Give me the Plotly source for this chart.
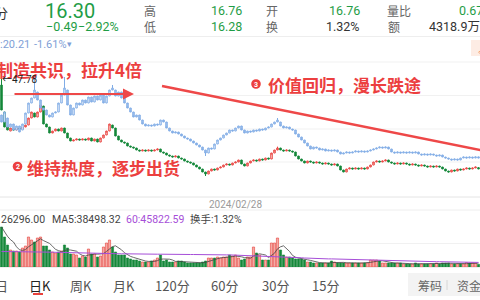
import plotly.graph_objects as go
import pandas as pd

# ---------------- data ----------------
main_open = [45.68,36.23,30.98,29.58,30.28,29.93,30.63,30.28,30.98,31.68,
             34.13,35.88,34.48,36.23,38.33,32.03,30.98,28.88,29.58,30.28,
             29.58,30.63,28.88,27.13,26.08,26.43,26.78,26.43,26.78,26.43,
             27.13,26.08,26.78,25.73,27.13,28.18,29.58,31.68,30.63,27.83,
             26.43,25.73,25.38,24.33,23.98,23.63,22.93,22.58,22.93,22.58,
             22.93,22.58,22.93,23.28,22.23,21.88,21.18,20.83,20.48,20.83,
             20.13,19.78,19.08,18.73,18.38,17.68,16.98,16.28,15.23,14.53,
             15.58,16.28,15.93,16.63,16.98,17.68,18.03,17.68,18.38,18.73,
             19.43,18.03,17.33,18.38,19.08,19.43,19.08,19.78,19.43,20.13,
             19.78,21.88,22.93,23.63,22.93,22.58,22.93,22.58,22.23,20.83,
             19.78,19.08,18.38,19.08,18.73,18.38,18.73,18.38,18.03,18.38,
             18.03,17.68,18.03,17.33,15.93,15.23,16.28,16.63,16.28,16.63,
             16.28,16.63,16.28,16.98,17.68,18.73,19.08,18.73,19.08,19.43,
             18.73,18.38,18.03,18.38,18.03,18.38,18.03,17.68,18.03,17.68,
             17.33,17.68,17.33,16.98,17.33,16.98,17.33,16.98,16.28,15.58,
             15.23,15.93,15.58,16.28,15.93,16.28,16.63,16.28,16.63,16.76]
main_close = [36.93,30.98,29.93,30.63,29.93,30.63,30.28,30.98,31.68,34.13,
              36.23,34.48,36.23,38.68,32.03,30.98,28.88,29.58,30.28,29.58,
              30.63,28.88,27.13,26.08,26.43,26.78,26.43,26.78,26.43,27.13,
              26.08,26.78,25.73,27.13,28.18,29.58,32.03,30.63,27.83,26.43,
              25.73,25.38,24.33,23.98,23.63,22.93,22.58,22.93,22.58,22.93,
              22.58,22.93,23.28,22.23,21.88,21.18,20.83,20.48,20.83,20.13,
              19.78,19.08,18.73,18.38,17.68,16.98,16.28,15.23,14.53,15.58,
              16.28,15.93,16.63,16.98,17.68,18.03,17.68,18.38,18.73,19.43,
              18.03,17.33,18.38,19.08,19.43,19.08,19.78,19.43,20.13,19.78,
              21.88,22.93,23.63,22.93,22.58,22.93,22.58,22.23,20.83,19.78,
              19.08,18.38,19.08,18.73,18.38,18.73,18.38,18.03,18.38,18.03,
              17.68,18.03,17.33,15.93,15.23,16.28,16.63,16.28,16.63,16.28,
              16.63,16.28,16.98,17.68,18.73,19.08,18.73,19.08,19.43,18.73,
              18.38,18.03,18.38,18.03,18.38,18.03,17.68,18.03,17.68,17.33,
              17.68,17.33,16.98,17.33,16.98,17.33,16.98,16.28,15.58,15.23,
              15.93,15.58,16.28,15.93,16.28,16.63,16.28,16.63,16.98,16.30]
main_wick_high = {0: 47.78, 13: 39.40, 92: 24.10, 159: 16.76}
main_wick_low = {68: 13.83, 159: 16.28}

cmp_open = [33.1,31.0,32.2,29.5,30.4,28.6,29.8,28.6,30.4,33.7,
            36.7,38.2,40.0,37.6,35.2,34.6,33.1,32.5,33.7,34.0,
            36.7,39.1,40.6,36.1,33.1,35.2,36.7,36.1,37.6,36.7,
            38.5,37.0,38.8,37.6,39.1,36.7,38.8,40.6,40.6,38.8,
            40.0,38.2,36.7,35.2,34.0,32.5,33.1,31.6,30.4,29.8,
            30.1,29.8,30.4,30.1,31.6,31.0,29.2,28.3,27.7,28.0,
            27.4,26.8,26.2,25.9,25.3,24.7,24.1,23.5,22.6,21.7,
            23.2,22.9,24.4,25.6,26.2,27.1,27.7,28.6,28.3,29.2,
            29.8,28.6,27.7,28.3,28.0,28.6,28.3,28.9,28.6,29.2,
            29.5,30.4,31.0,31.0,29.8,29.2,29.5,28.9,28.6,27.4,
            26.5,25.6,24.7,23.8,22.9,23.5,23.2,22.6,22.9,22.3,
            22.6,22.3,22.6,22.0,21.4,21.7,22.0,21.7,22.0,22.3,
            22.0,22.3,22.0,22.3,22.6,22.9,23.2,23.5,23.2,23.5,
            22.9,22.0,21.7,22.0,21.7,22.0,21.7,22.0,21.7,22.0,
            21.4,21.1,21.4,21.1,21.4,21.1,20.8,21.1,20.5,20.2,
            19.9,19.6,19.9,19.6,20.2,20.5,20.2,20.5,20.2,20.54]
cmp_close = [31.0,34.0,29.5,30.4,28.6,29.8,28.0,30.4,33.7,36.7,
             38.2,40.6,37.6,35.2,34.6,33.1,32.5,33.7,34.0,36.7,
             39.1,41.2,36.1,33.1,35.2,36.7,36.1,37.6,36.7,38.5,
             37.0,38.8,37.6,39.1,36.7,38.8,40.6,41.2,38.8,40.0,
             38.2,36.7,35.2,34.0,32.5,33.1,31.6,30.4,29.8,30.1,
             29.8,30.4,30.1,31.6,31.0,29.2,28.3,27.7,28.0,27.4,
             26.8,26.2,25.9,25.3,24.7,24.1,23.5,22.6,21.7,23.2,
             22.9,24.4,25.6,26.2,27.1,27.7,28.6,28.3,29.2,29.8,
             28.6,27.7,28.3,28.0,28.6,28.3,28.9,28.6,29.2,29.5,
             30.4,31.0,31.6,29.8,29.2,29.5,28.9,28.6,27.4,26.5,
             25.6,24.7,23.8,22.9,23.5,23.2,22.6,22.9,22.3,22.6,
             22.3,22.6,22.0,21.4,21.7,22.0,21.7,22.0,22.3,22.0,
             22.3,22.0,22.3,22.6,22.9,23.2,23.5,23.2,23.5,22.9,
             22.0,21.7,22.0,21.7,22.0,21.7,22.0,21.7,22.0,21.4,
             21.1,21.4,21.1,21.4,21.1,20.8,21.1,20.5,20.2,19.9,
             19.6,19.9,19.6,20.2,20.5,20.2,20.5,20.2,20.54,20.21]
cmp_wick_high = {11: 44.5, 21: 44.5, 37: 42.1, 92: 32.2}
cmp_wick_low = {68: 20.8}

volume = [400000,300000,220000,170000,160000,160000,150000,190000,210000,300000,
          270000,250000,290000,300000,210000,210000,170000,150000,140000,150000,
          160000,220000,190000,130000,130000,120000,90000,110000,100000,180000,
          130000,130000,100000,110000,200000,240000,270000,200000,150000,120000,
          120000,120000,90000,80000,70000,70000,60000,50000,50000,50000,
          60000,70000,90000,120000,60000,70000,50000,50000,50000,60000,
          60000,50000,40000,40000,40000,40000,40000,50000,60000,90000,
          90000,90000,100000,90000,100000,100000,120000,110000,120000,90000,
          70000,80000,100000,100000,200000,140000,120000,70000,70000,70000,
          240000,240000,290000,170000,120000,100000,100000,90000,80000,80000,
          80000,70000,50000,50000,40000,40000,40000,40000,40000,40000,
          60000,50000,40000,40000,40000,40000,40000,40000,40000,40000,
          40000,40000,40000,70000,70000,70000,60000,40000,40000,40000,
          40000,40000,40000,40000,30000,30000,30000,30000,40000,30000,
          30000,30000,30000,30000,30000,40000,30000,40000,40000,40000,
          30000,30000,30000,30000,30000,45000,40000,42000,39000,26296]
ma60_k = [155,155,154,154,154,153,153,153,152,152,
          151,151,150,150,149,149,148,148,147,146,
          146,145,144,143,142,141,140,140,139,138,
          137,137,136,136,135,135,134,134,133,133,
          132,132,131,131,131,130,130,130,129,129,
          129,128,128,128,127,127,127,127,126,126,
          126,126,125,125,125,124,124,124,123,123,
          123,122,122,122,121,121,121,120,120,120,
          119,118,117,116,115,114,113,112,111,110,
          108,107,106,104,103,101,100,98,96,94,
          92,90,88,87,86,85,84,83,82,81,
          81,80,79,78,78,77,76,75,74,73,
          72,71,70,70,69,68,67,66,65,64,
          63,62,61,60,59,58,58,57,57,56,
          56,55,55,54,54,53,53,52,52,51,
          51,50,50,49,49,48,48,47,46,45.82259]
date_tick_index = [78]
date_tick_label = ["2024/02/28"]

# ---------------- styling ----------------
W, H = 480, 300
RED = "#e8413c"
GREEN = "#15883a"
HGREEN = "#1f9d46"
BLUE = "#80ace6"
PURPLE = "#a64ed8"
ANN = "#ec3f3f"
NUM = "Roboto, Noto Sans CJK SC, sans-serif"
CJK = "Noto Sans CJK SC, sans-serif"

n = len(main_close)
idx = list(range(n))
main_high = [main_wick_high.get(i, max(main_open[i], main_close[i])) for i in idx]
main_low = [main_wick_low.get(i, min(main_open[i], main_close[i])) for i in idx]
cmp_high = [cmp_wick_high.get(i, max(cmp_open[i], cmp_close[i])) for i in idx]
cmp_low = [cmp_wick_low.get(i, min(cmp_open[i], cmp_close[i])) for i in idx]
ma5 = pd.Series(volume).rolling(5, min_periods=1).mean()
ma60 = [v * 1000 for v in ma60_k]
up = [main_close[i] >= main_open[i] for i in idx]
vol_fill = ["#f4aaa4" if u else GREEN for u in up]
vol_line = [RED if u else GREEN for u in up]


def py(y):
    return 1 - y / H


def px(x):
    return x / W


fig = go.Figure()
fig.add_trace(go.Candlestick(
    x=idx, open=cmp_open, high=cmp_high, low=cmp_low, close=cmp_close,
    increasing=dict(line=dict(color=BLUE, width=1), fillcolor="white"),
    decreasing=dict(line=dict(color=BLUE, width=1), fillcolor="#a9c7ef"),
    whiskerwidth=0, xaxis="x", yaxis="y3", hoverinfo="skip"))
fig.add_trace(go.Candlestick(
    x=idx, open=main_open, high=main_high, low=main_low, close=main_close,
    increasing=dict(line=dict(color=RED, width=1), fillcolor="white"),
    decreasing=dict(line=dict(color=GREEN, width=1), fillcolor=GREEN),
    whiskerwidth=0, xaxis="x", yaxis="y", hoverinfo="skip"))
fig.add_trace(go.Bar(
    x=idx, y=volume, marker=dict(color=vol_fill, line=dict(color=vol_line, width=0.6)),
    xaxis="x2", yaxis="y2", hoverinfo="skip"))
fig.add_trace(go.Scatter(x=idx, y=ma5, mode="lines", line=dict(color="#444", width=0.8),
                         xaxis="x2", yaxis="y2", hoverinfo="skip"))
fig.add_trace(go.Scatter(x=idx, y=ma60, mode="lines", line=dict(color=PURPLE, width=1),
                         xaxis="x2", yaxis="y2", hoverinfo="skip"))

main_dom = [py(197), py(50)]
fig.update_layout(
    width=W, height=H, margin=dict(l=0, r=0, t=0, b=0),
    paper_bgcolor="white", plot_bgcolor="rgba(0,0,0,0)",
    showlegend=False, bargap=0.28, boxgap=0.3,
    xaxis=dict(domain=[0, 1], range=[-0.5, n - 0.5], anchor="y",
               rangeslider=dict(visible=False), showgrid=False, zeroline=False,
               showline=False, ticks="", tickvals=date_tick_index, ticktext=date_tick_label,
               tickfont=dict(size=10, color="#9a9a9a", family=NUM)),
    yaxis=dict(domain=main_dom, range=[6.48, 57.93], visible=False),
    yaxis3=dict(overlaying="y", range=[8.5, 52.6], visible=False),
    xaxis2=dict(domain=[0, 1], range=[-0.5, n - 0.5], anchor="y2", visible=False),
    yaxis2=dict(domain=[py(267), py(210)], range=[0, 570000], visible=False),
)

shapes = []


def hline(y, color="#ececec", width=1, dash="solid"):
    shapes.append(dict(type="line", xref="paper", yref="paper", x0=0, x1=1,
                       y0=py(y), y1=py(y), line=dict(color=color, width=width, dash=dash),
                       layer="below"))


hline(36.5, "#eeeeee")
for gy in [62, 95.5, 129, 162]:
    hline(gy, "#f1f1f1")
hline(197, "#e4e4e4")
hline(210, "#eeeeee")
hline(243.5, "#f1f1f1")
hline(267.5, "#eeeeee")

# trend line
shapes.append(dict(type="line", xref="paper", yref="paper", x0=px(162), y0=py(86),
                   x1=px(492), y1=py(152.4), line=dict(color="#ee4848", width=2.5)))
# circled number backgrounds
for cx, cy in [(17.5, 166.5), (256, 84)]:
    shapes.append(dict(type="circle", xref="paper", yref="paper",
                       x0=px(cx - 4.8), x1=px(cx + 4.8), y0=py(cy + 4.8), y1=py(cy - 4.8),
                       fillcolor=ANN, line=dict(width=0)))
# tab box and small badge
shapes.append(dict(type="rect", xref="paper", yref="paper", x0=px(408), x1=px(482),
                   y0=py(296), y1=py(273), fillcolor="#f3f3f3", line=dict(width=0), layer="below"))
shapes.append(dict(type="rect", xref="paper", yref="paper", x0=px(471), x1=px(482),
                   y0=py(56), y1=py(40), fillcolor="#fdece4", line=dict(width=0), layer="below"))
shapes.append(dict(type="rect", xref="paper", yref="paper", x0=px(33), x1=px(43),
                   y0=py(295), y1=py(293), fillcolor=RED, line=dict(width=0)))
shapes.append(dict(type="line", xref="paper", yref="paper", x0=px(447), x1=px(447),
                   y0=py(290), y1=py(280), line=dict(color="#d6d6d6", width=1)))
fig.update_layout(shapes=shapes)


def txt(s, x, y, size, color, anchor="left", family=NUM):
    fig.add_annotation(text=s, x=px(x), y=py(y), xref="paper", yref="paper",
                       xanchor=anchor, yanchor="middle", showarrow=False,
                       borderpad=0, font=dict(size=size, color=color, family=family))


# header
txt("分", 9, 12, 13, "#333", "right", CJK)
txt("16.30", 44, 11, 20, HGREEN)
txt("−0.49", 45, 27, 12.5, HGREEN)
txt("−2.92%", 77, 27, 12.5, HGREEN)
txt("高", 143, 11, 12, "#666", family=CJK)
txt("低", 143, 27, 12, "#666", family=CJK)
txt("16.76", 210, 11, 12.5, HGREEN)
txt("16.28", 210, 27, 12.5, HGREEN)
txt("开", 265, 11, 12, "#666", family=CJK)
txt("换", 265, 27, 12, "#666", family=CJK)
txt("16.76", 361, 11, 12.5, HGREEN, "right")
txt("1.32%", 361, 27, 12.5, "#333", "right")
txt("量比", 386, 11, 12, "#666", family=CJK)
txt("额", 387, 27, 12, "#666", family=CJK)
txt("0.67", 484, 11, 12.5, HGREEN, "right")
txt("4318.9万", 481, 27, 12.5, "#333", "right")
txt(":20.21", -1, 44, 11, "#7f9fd6")
txt("-1.61%", 33, 44, 11, "#7f9fd6")
txt("▾", 66, 44, 9, "#7f9fd6")
txt("今", 477, 52, 8, "#f08a5d", "left", CJK)

# chart annotations
txt("<b>制造共识，拉升4倍</b>", 143, 69, 17, ANN, "right", CJK)
txt("←47.78", 1, 79.5, 10, "#222")
txt("<b>价值回归，漫长跌途</b>", 267, 84, 17, ANN, family=CJK)
txt("<b>维持热度，逐步出货</b>", 26, 167, 17, ANN, family=CJK)
txt("<b>3</b>", 256, 84.5, 7, "white", "center")
txt("<b>2</b>", 17.5, 167, 7, "white", "center")
fig.add_annotation(x=px(134), y=py(94), ax=-121, ay=0, xref="paper", yref="paper",
                   axref="pixel", ayref="pixel", text="", showarrow=True,
                   arrowhead=2, arrowsize=1.1, arrowwidth=2, arrowcolor="#ee4848",
                   standoff=0, startstandoff=0)

# volume legend
txt("26296.00", 0, 220, 10.5, "#444")
txt("MA5:38498.32", 51, 220, 10.5, "#444")
txt("60:45822.59", 125, 220, 10.5, PURPLE)
txt("换手:1.32%", 189, 220, 10.5, "#444", family=NUM)

# bottom tabs
TAB = "#555"
txt("日", 9, 285, 13, TAB, "right", CJK)
txt("日K", 28, 285, 13, "#222", family=CJK)
txt("周K", 69, 285, 13, TAB, family=CJK)
txt("月K", 112, 285, 13, TAB, family=CJK)
txt("120分", 154, 285, 13, TAB, family=CJK)
txt("60分", 210, 285, 13, TAB, family=CJK)
txt("30分", 261, 285, 13, TAB, family=CJK)
txt("15分", 311, 285, 13, TAB, family=CJK)
txt("筹码", 417, 285, 12, "#666", family=CJK)
txt("资金", 456, 285, 12, "#666", family=CJK)

fig.write_html("out.html")
